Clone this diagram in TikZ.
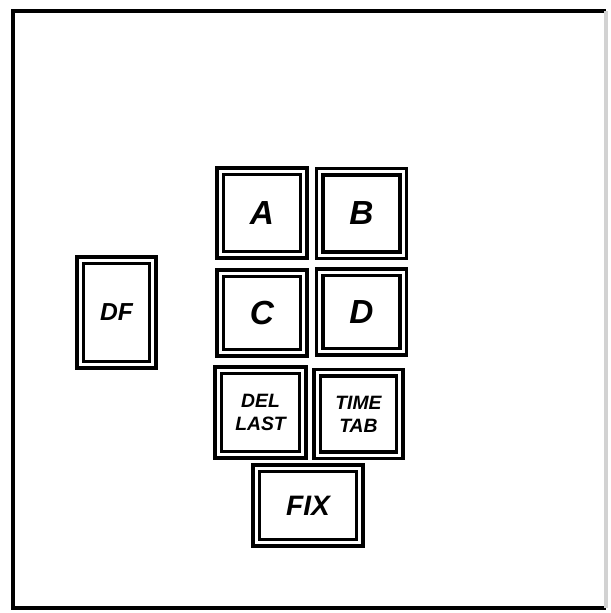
\documentclass[tikz,border=0pt]{standalone}
\usepackage{fontspec}
\setsansfont{Liberation Sans}
\usetikzlibrary{positioning}

\begin{document}
\begin{tikzpicture}[
    x=0.02cm, y=-0.02cm,
    key/.style={
        rectangle, draw, line width=0.07cm, double, double distance=0.06cm,
        minimum width=1.68cm, minimum height=1.68cm, inner sep=1pt,
        align=center, font=\sffamily\bfseries\itshape\fontsize{19}{19}\selectfont
    },
    small/.style={font=\sffamily\bfseries\itshape\fontsize{11}{13}\selectfont},
    frame/.style={line width=0.08cm}
]
\useasboundingbox (0,0) rectangle (611,613);

% panel outline
\draw[frame] (606,11) -- (13,11) -- (13,608) -- (606,608);
\draw[frame, gray!35] (606,11) -- (606,608);

\node[key] (keyA) at (262,213) {A};
\node[key] (keyB) at (361.5,213.5) {B};
\node[key, minimum height=1.6cm] (keyC) at (262,313) {C};
\node[key, minimum height=1.6cm] (keyD) at (361.5,312) {D};
\node[key, small, minimum width=1.7cm, minimum height=1.7cm] (dellast) at (260.5,412.5) {DEL\\LAST};
\node[key, small, minimum height=1.66cm, minimum width=1.66cm] (timetab) at (358.5,414) {TIME\\TAB};
\node[key, minimum width=2.08cm, minimum height=1.5cm,
      font=\sffamily\bfseries\itshape\fontsize{16}{16}\selectfont] (fix) at (308,505.5) {FIX};
\node[key, minimum width=1.46cm, minimum height=2.1cm,
      font=\sffamily\bfseries\itshape\fontsize{14}{14}\selectfont] (df) at (116.5,312.5) {DF};

\end{tikzpicture}
\end{document}
